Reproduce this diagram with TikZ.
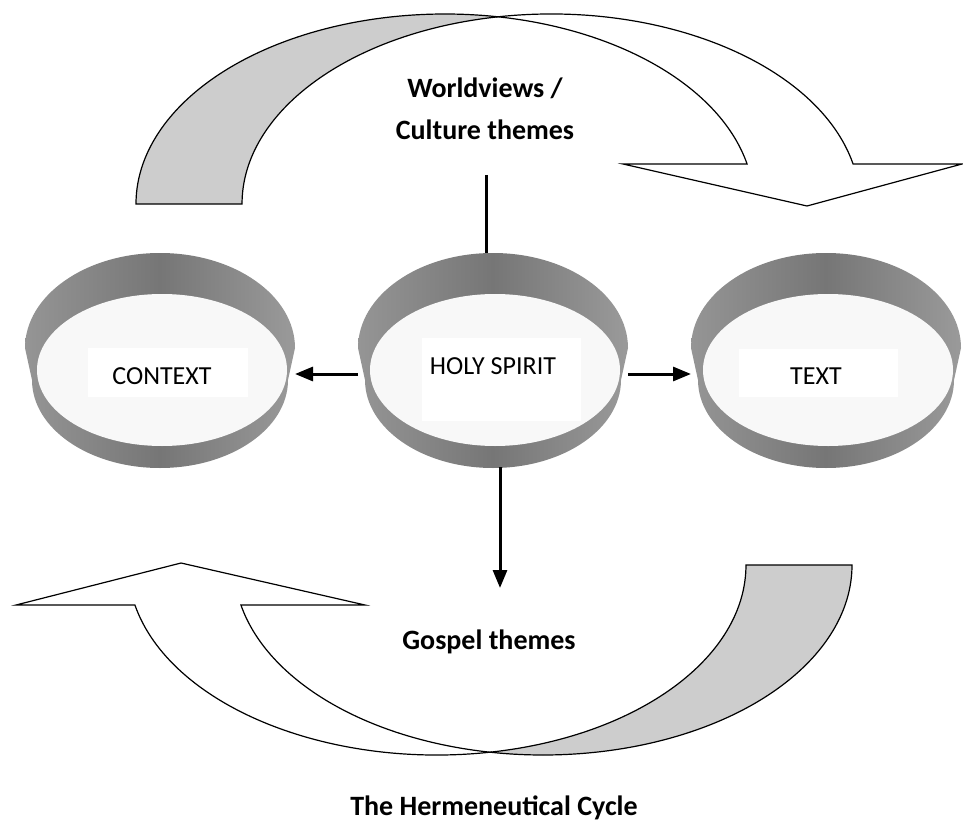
\documentclass[tikz,border=0pt]{standalone}
\usepackage{fontspec}
\setmainfont{Carlito}
\usetikzlibrary{arrows.meta,positioning}
\definecolor{backgrey}{RGB}{205,205,205}
\definecolor{rimleft}{RGB}{180,180,180}
\definecolor{rimmid}{RGB}{118,118,118}
\definecolor{rimright}{RGB}{190,190,190}
\definecolor{bowlin}{RGB}{248,248,248}
\pgfdeclarehorizontalshading{rim}{100bp}{color(0bp)=(rimleft); color(50bp)=(rimmid); color(100bp)=(rimright)}

\begin{document}
\begin{tikzpicture}[x=1pt,y=1pt,
  band/.style={draw=black,line width=1.2pt},
  link/.style={line width=3pt},
  tip/.style={-{Triangle[length=18pt,width=14pt]}},
  labelbox/.style={fill=white,inner sep=0pt},
  bowltext/.style={font=\fontsize{26}{30}\selectfont,inner sep=0pt},
  theme/.style={font=\bfseries\fontsize{28}{42}\selectfont,align=center,inner sep=0pt}]
  \useasboundingbox (0,0) rectangle (963,-821);

  % upper curved arrow
  \filldraw[band,fill=backgrey] (136,-204) arc[start angle=180,end angle=80.12,x radius=309,y radius=190]
    arc[start angle=99.88,end angle=180,x radius=309,y radius=190] -- cycle;
  \filldraw[band,fill=white] (498,-16.82) arc[start angle=99.88,end angle=12.15,x radius=309,y radius=190]
    -- (962,-164) -- (807,-206) -- (623,-164) -- (747.07,-164)
    arc[start angle=12.15,end angle=80.12,x radius=309,y radius=190] -- cycle;

  % lower curved arrow
  \filldraw[band,fill=backgrey] (852,-565) arc[start angle=0,end angle=-99.88,x radius=309,y radius=190]
    arc[start angle=-80.12,end angle=0,x radius=309,y radius=190] -- cycle;
  \filldraw[band,fill=white] (490,-752.18) arc[start angle=-80.12,end angle=-167.85,x radius=309,y radius=190]
    -- (16,-605) -- (181,-563) -- (365,-605) -- (240.93,-605)
    arc[start angle=192.15,end angle=260.12,x radius=309,y radius=190] -- cycle;

  % bowls
  \foreach \cx/\nm in {160/context,493/spirit,826/text}{
    \shade[shading=rim] (\cx-135,-348) arc[start angle=180,end angle=0,x radius=135,y radius=95]
      -- (\cx+128,-380) arc[start angle=0,end angle=-180,x radius=128,y radius=88] -- cycle;
    \fill[bowlin] (\cx+2,-370) ellipse[x radius=125,y radius=76];
    \coordinate (\nm-w) at (\cx-135,-374);
    \coordinate (\nm-e) at (\cx+135,-374);
    \coordinate (\nm-n) at (\cx-7,-253);
    \coordinate (\nm-s) at (\cx+7,-467);
  }

  \node[labelbox,minimum width=160pt,minimum height=49pt] (contextbox) at (168,-372.5) {};
  \node[labelbox,minimum width=159pt,minimum height=83pt] (spiritbox) at (501.5,-379.5) {};
  \node[labelbox,minimum width=159pt,minimum height=48pt] (textbox) at (818.5,-373) {};
  \node[bowltext] (context) at (162,-376) {CONTEXT};
  \node[bowltext] (spirit) at (493,-366) {HOLY SPIRIT};
  \node[bowltext] (text) at (816,-376.5) {TEXT};

  \node[theme] (worldviews) at (485,-109) {Worldviews /\\Culture themes};
  \node[theme] (gospel) at (489,-642) {Gospel themes};
  \node[theme] (title) at (494,-808) {The Hermeneutical Cycle};

  \coordinate (stem) at (486,-175);
  \coordinate (gospeltip) at (500,-588);
  \draw[link] (stem) -- (spirit-n);
  \draw[link,tip] (spirit-w) -- (context-e);
  \draw[link,tip] (spirit-e) -- (text-w);
  \draw[link,tip] (spirit-s) -- (gospeltip);
\end{tikzpicture}
\end{document}
